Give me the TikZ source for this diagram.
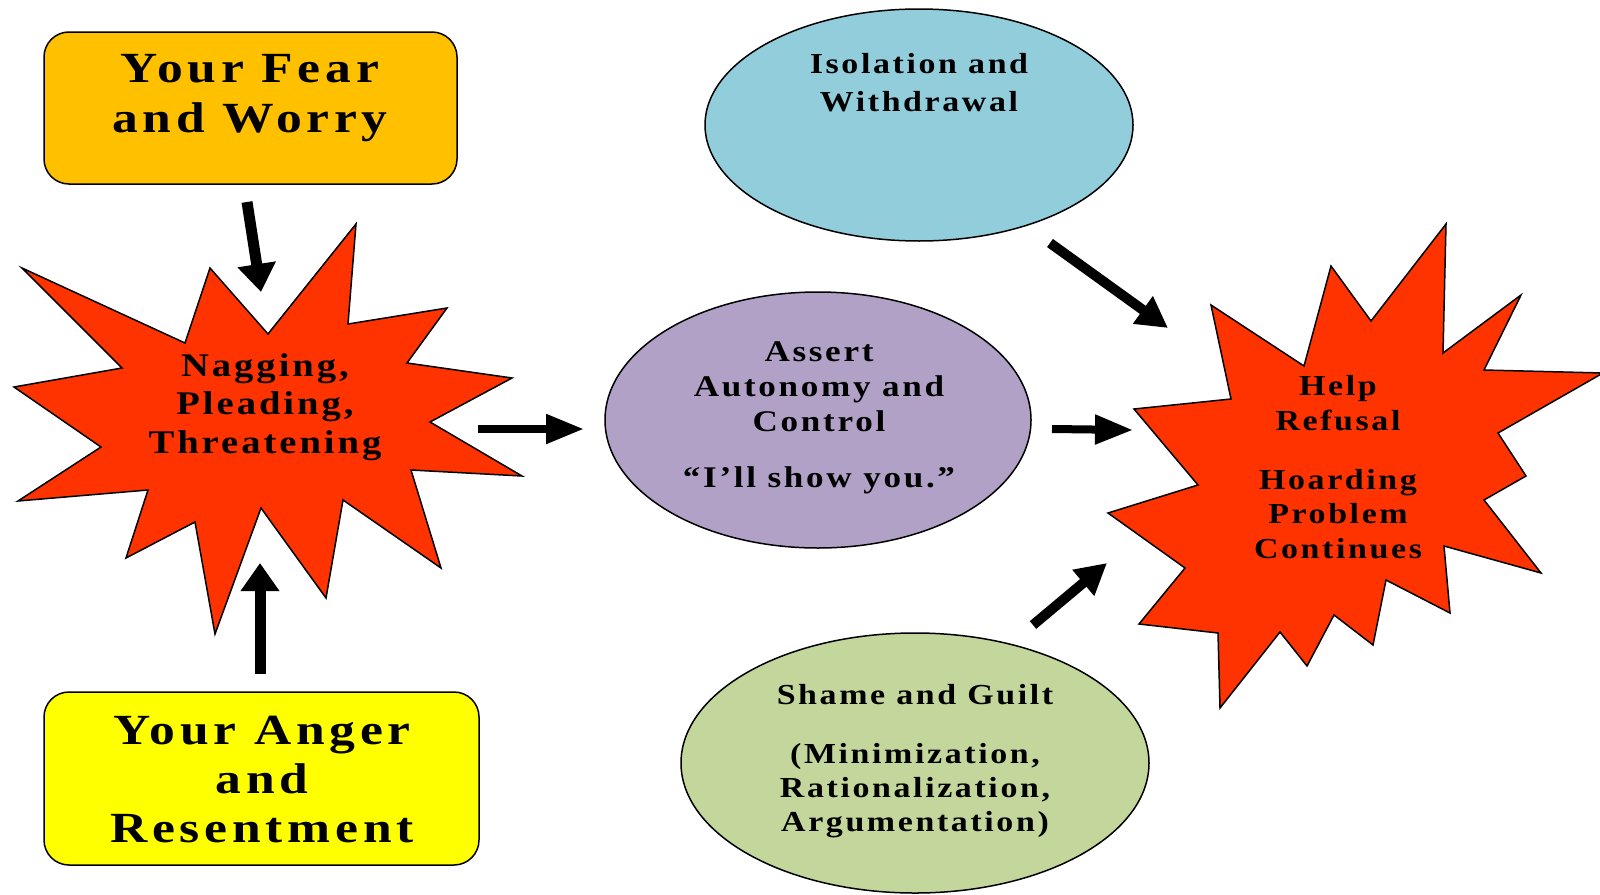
\documentclass[tikz,border=0pt]{standalone}
\usepackage{fontspec}
\usepackage{tikz}
\usetikzlibrary{shapes.geometric,arrows.meta}
\newfontfamily\diagfont[FakeStretch=1.17,LetterSpace=9]{Liberation Serif}
\newfontfamily\boxfont[FakeStretch=1.2,LetterSpace=11]{Liberation Serif}
\definecolor{fearcol}{HTML}{FFC000}
\definecolor{angercol}{HTML}{FFFF00}
\definecolor{burstcol}{HTML}{FF3300}
\definecolor{isocol}{HTML}{92CDDC}
\definecolor{assertcol}{HTML}{B2A1C7}
\definecolor{shamecol}{HTML}{C3D69B}
\tikzset{>=Latex}

\begin{document}
\begin{tikzpicture}[x=1pt,y=-1pt,
roundbox/.style={rectangle, rounded corners=25pt, draw=black, line width=1.5pt, inner sep=0pt},
oval/.style={ellipse, draw=black, line width=1.5pt, inner sep=0pt},
burst/.style={draw=black, line width=1.5pt, fill=burstcol, line join=miter},
words/.style={align=center, inner sep=0pt, text=black},
vertarrow/.style={line width=11pt, -{Triangle[width=37pt,length=28pt]}},
horizarrow/.style={line width=8pt, -{Triangle[width=28pt,length=38pt]}},
diagarrow/.style={line width=10pt, -{Triangle[width=32pt,length=31pt]}},
]
\fill[white] (0,0) rectangle (1600,894);
\useasboundingbox (0,0) rectangle (1600,894);

%Bursts
\draw[burst] (22,268) -- (185,343) -- (210,268) -- (268,334) -- (356,224) -- (348,324)
  -- (447,308) -- (407,363) -- (512,378) -- (430,422) -- (522,476) -- (411,470)
  -- (441,568) -- (343,500) -- (326,598) -- (261,508) -- (215,634) -- (195,522)
  -- (126,558) -- (148,490) -- (18,501) -- (101,447) -- (14,387) -- (122,368) -- cycle;
\draw[burst] (1211,305) -- (1304,366) -- (1331,266) -- (1371,321) -- (1446,224) -- (1443,353)
  -- (1521,295) -- (1484,370) -- (1603,373) -- (1498,433) -- (1526,476) -- (1484,500)
  -- (1541,573) -- (1444,546) -- (1450,613) -- (1386,580) -- (1373,645) -- (1334,615)
  -- (1307,666) -- (1280,632) -- (1220,708) -- (1218,633) -- (1139,624) -- (1185,568)
  -- (1108,513) -- (1198,485) -- (1134,409) -- (1231,399) -- cycle;

%Nodes
\node[roundbox, fill=fearcol, minimum width=413pt, minimum height=152pt] (Fear) at (250.5,108) {};
\node[roundbox, fill=angercol, minimum width=435pt, minimum height=173pt] (Anger) at (261.5,778.5) {};
\node[oval, fill=isocol, minimum width=428pt, minimum height=232pt] (Isolation) at (919,125) {};
\node[oval, fill=assertcol, minimum width=426pt, minimum height=256pt] (Assert) at (818,420) {};
\node[oval, fill=shamecol, minimum width=468pt, minimum height=260pt] (Shame) at (915,763) {};

%Texts
\node[words, font=\boxfont\bfseries\fontsize{43}{50}\selectfont] (FearText) at (250,98.4) {Your Fear\\and Worry};
\node[words, font=\boxfont\bfseries\fontsize{43}{49}\selectfont] (AngerText) at (262,779.7) {Your Anger\\and\\Resentment};
\node[words, font=\diagfont\bfseries\fontsize{33}{38.5}\selectfont] (NagText) at (265,407) {Nagging,\\Pleading,\\Threatening};
\node[words, font=\diagfont\bfseries\fontsize{29}{38}\selectfont] (IsoText) at (919,83) {Isolation and\\Withdrawal};
\node[words, font=\diagfont\bfseries\fontsize{30}{35}\selectfont] (AssertText) at (819,418) {Assert\\Autonomy and\\Control\\[21pt]“I’ll show you.”};
\node[words, font=\diagfont\bfseries\fontsize{29}{34.5}\selectfont] (HelpText) at (1338,467) {Help\\Refusal\\[24.5pt]Hoarding\\Problem\\Continues};
\node[words, font=\diagfont\bfseries\fontsize{29}{34}\selectfont] (ShameText) at (915,761) {Shame and Guilt\\[25pt](Minimization,\\Rationalization,\\Argumentation)};

%Arrow ends
\coordinate (FearOut) at (247,202);
\coordinate (NagTop) at (261,292);
\coordinate (AngerOut) at (260,674);
\coordinate (NagBottom) at (260,563);
\coordinate (NagOut) at (478,429);
\coordinate (AssertIn) at (584,429);
\coordinate (AssertOut) at (1052,429);
\coordinate (HelpLeft) at (1133,430);
\coordinate (IsoOut) at (1050,243);
\coordinate (HelpTop) at (1168,328);
\coordinate (ShameOut) at (1033,625);
\coordinate (HelpBottom) at (1107,563);

%Lines
\draw[vertarrow] (FearOut) -- (NagTop);
\draw[vertarrow] (AngerOut) -- (NagBottom);
\draw[horizarrow] (NagOut) -- (AssertIn);
\draw[horizarrow] (AssertOut) -- (HelpLeft);
\draw[diagarrow] (IsoOut) -- (HelpTop);
\draw[diagarrow] (ShameOut) -- (HelpBottom);
\end{tikzpicture}
\end{document}
